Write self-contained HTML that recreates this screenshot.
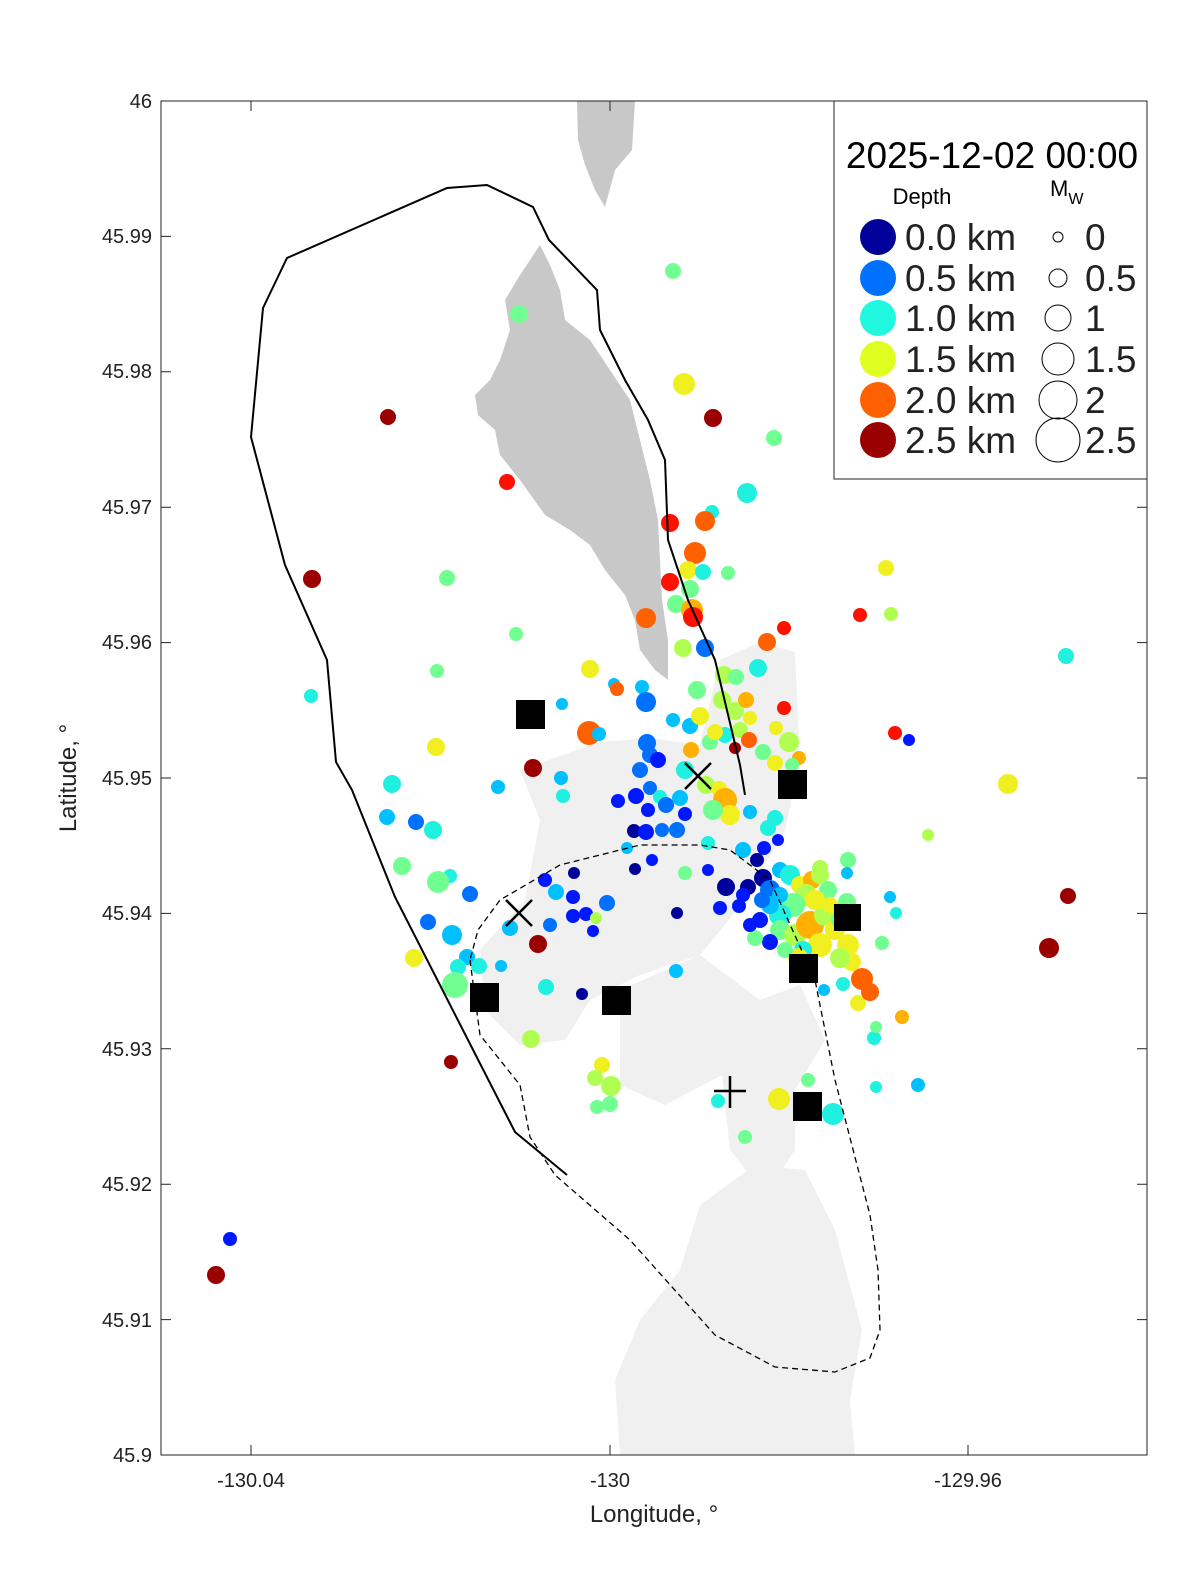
<!DOCTYPE html>
<html><head><meta charset="utf-8"><style>
html,body{margin:0;padding:0;background:#fff;width:1200px;height:1575px;overflow:hidden}
svg text{font-family:"Liberation Sans",sans-serif;fill:#222}
</style></head><body>
<svg id="s" width="1200" height="1575" viewBox="0 0 1200 1575" xmlns="http://www.w3.org/2000/svg">
<rect x="0" y="0" width="1200" height="1575" fill="#fff"/>
<g fill="#f0f0f0">
<path d="M520,770 L600,742 L650,738 L700,745 L720,660 L760,642 L795,652 L800,760 L785,830 L745,900 L700,955 L640,975 L590,1000 L565,1040 L520,1045 L485,1010 L480,950 L525,900 L540,820 Z"/>
<path d="M620,990 L700,955 L760,1000 L800,985 L825,1040 L795,1090 L795,1150 L765,1195 L730,1150 L722,1075 L665,1105 L620,1085 Z"/>
<path d="M700,1205 L755,1165 L805,1170 L835,1230 L862,1330 L850,1400 L855,1455 L620,1455 L615,1380 L640,1320 L680,1270 Z"/>
</g>
<g fill="#c8c8c8">
<path d="M577,101 L635,101 L632,150 L615,170 L605,207 L595,190 L585,165 L578,140 Z"/>
<path d="M540,245 L550,265 L560,290 L565,320 L590,340 L610,370 L630,400 L640,440 L650,480 L658,520 L660,560 L662,600 L668,640 L668,680 L655,670 L640,650 L635,620 L625,595 L605,570 L590,545 L570,530 L545,515 L520,480 L500,455 L495,430 L478,415 L475,395 L490,380 L500,360 L510,330 L505,300 L520,275 Z"/>
</g>
<g id="dots"></g>
<g fill="#000">
<rect x="516" y="700" width="29" height="29"/><rect x="778" y="770" width="29" height="29"/>
<rect x="470" y="983" width="29" height="29"/><rect x="602" y="986" width="29" height="29"/>
<rect x="789" y="954" width="29" height="29"/><rect x="834" y="904" width="27" height="27"/>
<rect x="793" y="1092" width="29" height="29"/>
</g>
<g stroke="#000" stroke-width="2.5" fill="none">
<path d="M685,763 L711,789 M711,763 L685,789"/><path d="M506,900 L532,926 M532,900 L506,926"/>
<path d="M730,1076 L730,1108 M714,1091 L746,1091"/>
</g>
<path d="M567,1175 L515,1132 L395,897 L352,790 L336,762 L327,660 L285,565 L251,437 L263,308 L287,258 L447,188 L487,185 L533,207 L549,240 L597,290 L600,330 L625,380 L648,420 L665,460 L668,540 L688,600 L715,660 L740,765 L745,795" fill="none" stroke="#000" stroke-width="2"/>
<path d="M470,960 L480,1035 L520,1085 L530,1137 L555,1175 L630,1240 L715,1335 L775,1367 L835,1372 L870,1358 L880,1330 L878,1270 L870,1215 L835,1080 L815,980 L770,880 L730,850 L700,845 L640,845 L560,865 L500,900 L478,930 Z" fill="none" stroke="#000" stroke-width="1.3" stroke-dasharray="6,4"/>
<rect x="161" y="101" width="986" height="1354" fill="none" stroke="#222" stroke-width="1"/>
<g stroke="#222" stroke-width="1" id="ticks"></g>
<g font-size="20" text-anchor="end">
<text x="152" y="108">46</text><text x="152" y="243">45.99</text><text x="152" y="378">45.98</text><text x="152" y="514">45.97</text><text x="152" y="649">45.96</text><text x="152" y="785">45.95</text><text x="152" y="920">45.94</text><text x="152" y="1056">45.93</text><text x="152" y="1191">45.92</text><text x="152" y="1327">45.91</text><text x="152" y="1462">45.9</text>
</g>
<g font-size="20" text-anchor="middle">
<text x="251" y="1487">-130.04</text><text x="610" y="1487">-130</text><text x="968" y="1487">-129.96</text>
<text x="654" y="1522" font-size="24">Longitude, °</text>
</g>
<text transform="translate(76,778) rotate(-90)" font-size="24" text-anchor="middle">Latitude, °</text>
<rect x="834" y="101" width="313" height="378" fill="#fff" stroke="#222" stroke-width="1"/>
<text x="992" y="168" font-size="37" text-anchor="middle" style="fill:#000">2025-12-02 00:00</text>
<text x="922" y="204" font-size="22" text-anchor="middle" style="fill:#000">Depth</text>
<text x="1050" y="196" font-size="22" style="fill:#000">M<tspan font-size="16" dy="8">W</tspan></text>
<g fill="#000"><circle cx="878" cy="237" r="18" fill="#00009a"/><circle cx="878" cy="278" r="18" fill="#0070ff"/><circle cx="878" cy="318" r="18" fill="#20f8e0"/><circle cx="878" cy="359" r="18" fill="#e0ff20"/><circle cx="878" cy="400" r="18" fill="#ff6000"/><circle cx="878" cy="440" r="18" fill="#9a0000"/></g>
<g font-size="37" style="fill:#000"><text x="905" y="250">0.0 km</text><text x="905" y="291">0.5 km</text><text x="905" y="331">1.0 km</text><text x="905" y="372">1.5 km</text><text x="905" y="413">2.0 km</text><text x="905" y="453">2.5 km</text>
<text x="1085" y="250">0</text><text x="1085" y="291">0.5</text><text x="1085" y="331">1</text><text x="1085" y="372">1.5</text><text x="1085" y="413">2</text><text x="1085" y="453">2.5</text></g>
<g fill="none" stroke="#000" stroke-width="1"><circle cx="1058" cy="237" r="5"/><circle cx="1058" cy="278" r="9"/><circle cx="1058" cy="318" r="13"/><circle cx="1058" cy="359" r="16"/><circle cx="1058" cy="400" r="19"/><circle cx="1058" cy="440" r="22"/></g>
</svg>
<script>
var C={a:"#00009a",b:"#0018ff",c:"#0070ff",d:"#00c0ff",e:"#20f0e0",f:"#70ff90",g:"#b0ff50",h:"#f0f020",i:"#ffb000",j:"#ff6000",k:"#ff1000",l:"#9a0000"};
var P="673,271,8,f;519,314,9,f;684,384,11,h;713,418,9,l;388,417,8,l;774,438,8,f;747,493,10,e;507,482,8,k;712,512,7,e;670,523,9,k;705,521,10,j;695,553,11,j;688,570,9,h;703,572,8,e;728,573,7,f;670,582,9,k;690,589,9,f;312,579,9,l;447,578,8,f;676,604,9,f;692,610,11,i;693,617,10,k;646,618,10,j;784,628,7,k;767,642,9,j;860,615,7,k;891,614,7,g;886,568,8,h;516,634,7,f;683,648,9,g;705,648,9,c;758,668,9,e;437,671,7,f;590,669,9,h;1066,656,8,e;311,696,7,e;614,684,6,d;617,689,7,j;642,687,7,d;646,702,10,c;697,690,9,f;724,675,9,g;736,677,8,f;562,704,6,d;673,720,7,d;690,726,8,d;700,716,9,h;722,700,9,g;735,711,9,g;746,700,8,i;750,718,7,h;776,728,7,h;784,708,7,k;740,730,8,g;725,735,8,e;710,742,8,f;589,733,12,j;599,734,7,d;436,747,9,h;647,743,9,c;650,755,8,c;691,750,8,i;715,732,8,h;735,748,6,l;749,740,8,j;763,752,8,f;789,742,10,g;799,758,7,i;775,763,8,h;792,765,7,f;533,768,9,l;561,778,7,d;640,770,8,c;658,760,8,b;685,770,9,e;895,733,7,k;909,740,6,b;1008,784,10,h;498,787,7,d;563,796,7,e;636,796,8,b;650,788,7,c;660,797,7,e;680,798,8,d;706,785,9,g;719,789,8,h;725,800,12,i;730,815,10,h;713,810,10,f;392,784,9,e;387,817,8,d;416,822,8,c;433,830,9,e;618,801,7,b;648,810,7,b;666,805,8,c;685,814,7,b;677,830,8,c;662,830,7,c;634,831,7,a;646,832,8,b;750,812,7,d;768,828,8,e;775,818,8,e;928,835,6,g;778,840,6,b;764,848,7,b;757,860,7,a;743,850,8,d;708,843,7,e;402,866,9,f;652,860,6,b;635,869,6,a;627,848,6,d;708,870,6,b;685,873,7,f;574,873,6,a;450,876,7,e;438,882,11,f;470,894,8,c;545,880,7,b;556,892,8,d;573,897,7,b;607,903,8,c;586,914,7,b;573,916,7,b;596,918,6,g;677,913,6,a;593,931,6,b;550,925,7,c;510,928,8,d;428,922,8,c;452,935,10,d;538,944,9,l;1068,896,8,l;1049,948,10,l;890,897,6,d;896,913,6,e;882,943,7,f;467,957,8,d;479,966,8,e;501,966,6,d;458,967,8,e;414,958,9,h;455,985,13,f;492,1004,7,g;546,987,8,e;582,994,6,a;610,1007,6,f;676,971,7,d;451,1062,7,l;531,1039,9,g;602,1065,8,h;595,1078,8,g;611,1086,10,g;597,1107,7,f;610,1104,8,f;718,1101,7,e;745,1137,7,f;779,1099,11,h;808,1080,7,f;833,1114,11,e;876,1087,6,e;918,1085,7,d;874,1038,7,e;876,1027,6,f;902,1017,7,i;858,1003,8,h;870,992,9,j;862,979,11,j;843,984,7,e;852,962,9,h;824,990,6,d;230,1239,7,b;216,1275,9,l;726,887,9,a;748,887,8,a;720,908,7,b;739,906,7,b;763,878,9,a;770,890,10,c;780,870,8,d;790,875,10,e;800,885,9,h;812,880,9,i;820,868,8,g;806,895,11,g;793,905,12,f;780,915,11,e;770,905,9,d;760,920,8,b;780,930,10,f;795,935,11,g;810,925,14,i;825,915,11,g;835,930,10,h;848,945,11,h;840,958,10,g;820,945,12,h;803,950,9,e;798,958,10,h;785,950,8,f;770,942,8,b;755,938,8,f;750,925,7,b;840,920,9,f;847,902,9,f;828,890,9,f;820,875,9,g;848,860,8,f;847,873,6,d;815,900,10,h;830,905,8,h;780,895,8,d;762,900,8,c;743,895,7,b";
var g=document.getElementById("dots"),ns="http://www.w3.org/2000/svg";
P.split(";").forEach(function(s){var a=s.split(",");var c=document.createElementNS(ns,"circle");c.setAttribute("cx",a[0]);c.setAttribute("cy",a[1]);c.setAttribute("r",a[2]);c.setAttribute("fill",C[a[3]]);g.appendChild(c);});
var t=document.getElementById("ticks"),d="";
for(var i=0;i<=10;i++){var y=101+i*135.4;d+="M161,"+y+"h10M1147,"+y+"h-10";}
[251,610,968].forEach(function(x){d+="M"+x+",1455v-10M"+x+",101v10";});
var p=document.createElementNS(ns,"path");p.setAttribute("d",d);t.appendChild(p);
</script>
</body></html>
